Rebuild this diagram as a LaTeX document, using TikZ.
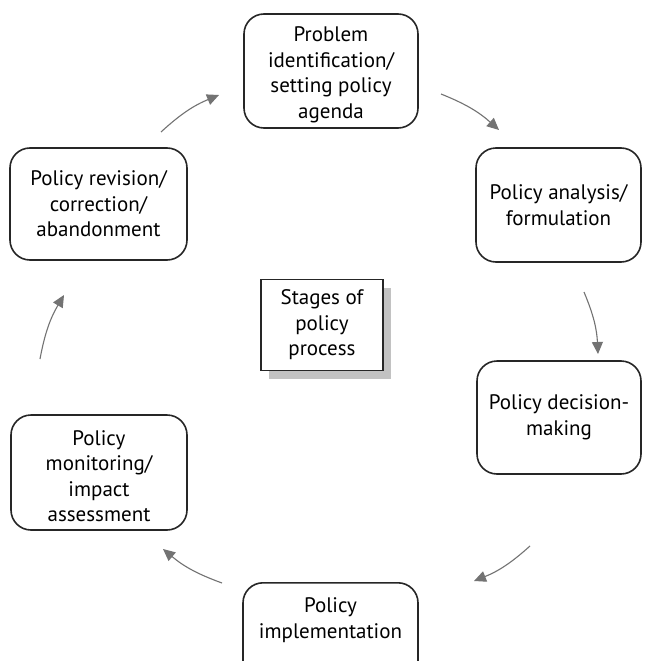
\documentclass[tikz,border=0pt]{standalone}
\usepackage{fontspec}
\setmainfont{PT Sans}
\usetikzlibrary{arrows.meta,shadows}
\begin{document}
\begin{tikzpicture}[x=1pt,y=-1pt,
  box/.style={draw=black!85, line width=1.6pt, rounded corners=20pt, align=center,
    font=\fontsize{21}{25.5}\selectfont, inner sep=0pt},
  txt/.style={align=center, font=\fontsize{21}{25.5}\selectfont, inner sep=0pt},
  flow/.style={draw=black!55, line width=1.1pt, -{Triangle[length=12pt,width=11pt]}, bend left=10}]
\useasboundingbox (0,0) rectangle (648,661);
\fill[white] (0,0) rectangle (648,661);

\node[box, minimum width=174pt, minimum height=114pt] (A) at (331,71) {};
\node[txt] (At) at (331,75) {Problem\\identification/\\setting policy\\agenda};
\node[box, minimum width=165pt, minimum height=114pt] (B) at (558.5,205) {Policy analysis/\\formulation};
\node[box, minimum width=164pt, minimum height=113pt] (C) at (559,417.5) {Policy decision-\\making};
\node[box, minimum width=175pt, minimum height=114pt, anchor=north] (D) at (330.5,582) {};
\node[txt] (Dt) at (330.5,620) {Policy\\implementation};
\node[box, minimum width=176pt, minimum height=115pt] (E) at (99,472.5) {};
\node[txt] (Et) at (99,476) {Policy\\monitoring/\\impact\\assessment};
\node[box, minimum width=177pt, minimum height=112pt] (F) at (98.5,204) {Policy revision/\\correction/\\abandonment};
\node[txt, draw=black!85, line width=1.3pt, fill=white, minimum width=122pt, minimum height=91pt,
  drop shadow={shadow xshift=8pt, shadow yshift=-8pt, fill=black!24, opacity=1}] (G) at (322,325) {Stages of\\policy\\process};

\coordinate (fa1) at (161,132); \coordinate (fa2) at (219,95);
\coordinate (ab1) at (441,94);  \coordinate (ab2) at (499,130);
\coordinate (bc1) at (584,292); \coordinate (bc2) at (598,354);
\coordinate (cd1) at (530,546); \coordinate (cd2) at (474,581);
\coordinate (de1) at (222,583); \coordinate (de2) at (163,549);
\coordinate (ef1) at (40,359);  \coordinate (ef2) at (64,295);

\draw[flow] (fa1) to (fa2);
\draw[flow] (ab1) to (ab2);
\draw[flow] (bc1) to (bc2);
\draw[flow] (cd1) to (cd2);
\draw[flow] (de1) to (de2);
\draw[flow] (ef1) to (ef2);
\end{tikzpicture}
\end{document}
